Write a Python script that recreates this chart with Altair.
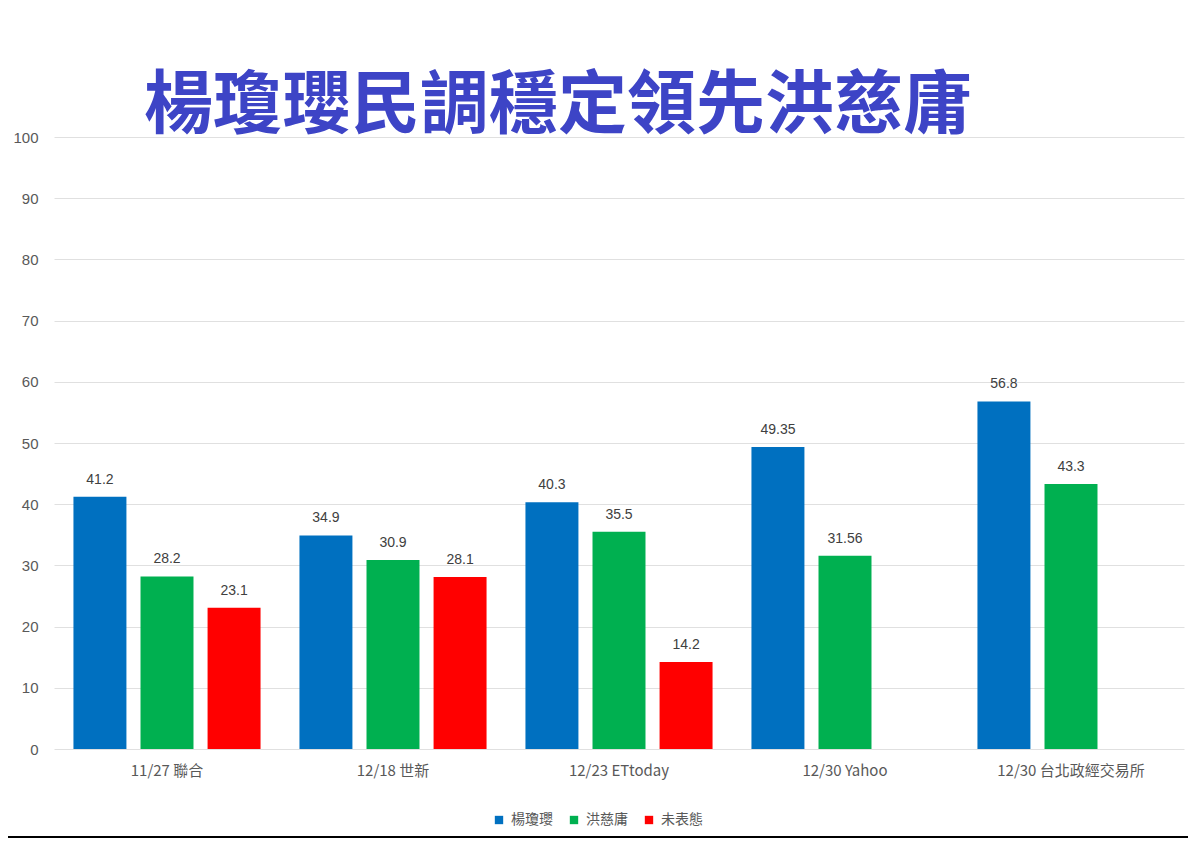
import altair as alt
import pandas as pd

polls = ["11/27 聯合", "12/18 世新", "12/23 ETtoday", "12/30 Yahoo", "12/30 台北政經交易所"]
series = ["楊瓊瓔", "洪慈庸", "未表態"]
yang = [41.2, 34.9, 40.3, 49.35, 56.8]
hung = [28.2, 30.9, 35.5, 31.56, 43.3]
undecided = [23.1, 28.1, 14.2, None, None]
colors = ["#0070C0", "#00B050", "#FF0000"]

rows = []
for i, p in enumerate(polls):
    for s, vals in zip(series, [yang, hung, undecided]):
        v = vals[i]
        if v is not None:
            rows.append({"poll": p, "series": s, "value": v, "label": str(v)})
df = pd.DataFrame(rows)

FONT = "Noto Sans CJK TC"

x = alt.X("poll:N", sort=polls, title=None,
          scale=alt.Scale(paddingInner=0, paddingOuter=0),
          axis=alt.Axis(labelAngle=0, labelFontSize=15, labelColor="#595959",
                        labelFont=FONT, labelPadding=14, ticks=False,
                        domain=False, grid=False))
xoff = alt.XOffset("series:N", sort=series,
                   scale=alt.Scale(domain=series, paddingInner=0.21, paddingOuter=0.29))
y = alt.Y("value:Q", title=None,
          scale=alt.Scale(domain=[0, 100]),
          axis=alt.Axis(values=list(range(0, 101, 10)), labelFontSize=15,
                        labelColor="#595959", labelPadding=16, ticks=False,
                        domain=False, gridColor="#e0e0e0", gridWidth=1))

base = alt.Chart(df)

bars = base.mark_bar().encode(
    x=x, xOffset=xoff, y=y,
    color=alt.Color("series:N", sort=series,
                    scale=alt.Scale(domain=series, range=colors),
                    legend=alt.Legend(title=None, orient="none", direction="horizontal",
                                      legendX=438, legendY=676,
                                      symbolType="square", symbolSize=70,
                                      symbolStrokeWidth=0,
                                      labelFont=FONT, labelFontSize=14,
                                      labelColor="#595959", columnPadding=14,
                                      labelOffset=5)),
)

labels = base.mark_text(baseline="bottom", dy=-10, fontSize=14, color="#404040").encode(
    x=x, xOffset=xoff, y=y, text="label:N"
)

line = alt.Chart(pd.DataFrame({"a": [0]})).mark_rule(color="#000000", strokeWidth=2).encode(
    x=alt.value(-54), x2=alt.value(1150), y=alt.value(700)
)

chart = alt.layer(bars, labels, line).properties(
    width=1130, height=612,
    background="white",
    autosize=alt.AutoSizeParams(type="none"),
    padding={"left": 46, "top": 129, "right": 4, "bottom": 100},
    title=alt.TitleParams(
        "楊瓊瓔民調穩定領先洪慈庸", font=FONT, fontSize=69, fontWeight="bold",
        color="#3d44c6", anchor="middle", dx=-61, offset=0, baseline="bottom", dy=81
    ),
).configure_view(stroke=None)

chart.save("out.html", embed_options={"renderer": "svg", "actions": False})
